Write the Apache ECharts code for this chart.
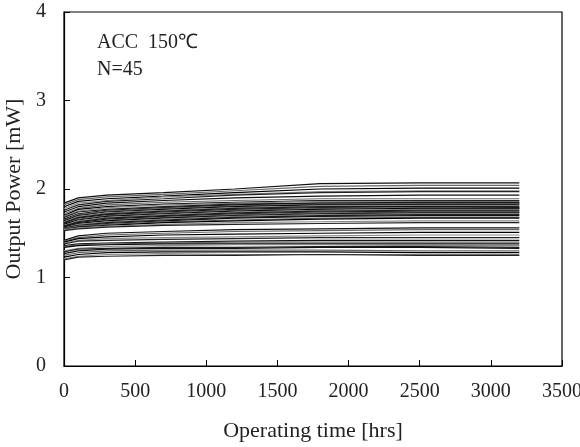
<!DOCTYPE html>
<html><head><meta charset="utf-8">
<script src="https://cdn.jsdelivr.net/npm/echarts@6/dist/echarts.min.js"></script>
<style>html,body{margin:0;padding:0;background:#fff}#c{width:580px;height:447px}</style>
</head><body><div id="c"></div>
<script>
const times = [0, 100, 300, 700, 1200, 1800, 2500, 3200];
const xTicks = [0, 500, 1000, 1500, 2000, 2500, 3000, 3500];
const yTicks = [0, 1, 2, 3, 4];
const s1 = [1.84,1.90,1.93,1.96,2.00,2.06,2.07,2.07];
const s2 = [1.82,1.88,1.91,1.94,1.98,2.03,2.04,2.04];
const s3 = [1.80,1.86,1.89,1.92,1.96,2.00,2.01,2.01];
const s4 = [1.78,1.84,1.87,1.91,1.94,1.97,1.98,1.98];
const s5 = [1.76,1.82,1.86,1.89,1.93,1.96,1.97,1.97];
const s6 = [1.74,1.80,1.84,1.87,1.90,1.92,1.93,1.93];
const s7 = [1.72,1.78,1.82,1.85,1.87,1.89,1.89,1.89];
const s8 = [1.70,1.77,1.80,1.83,1.85,1.87,1.87,1.87];
const s9 = [1.69,1.75,1.79,1.82,1.84,1.86,1.86,1.86];
const s10 = [1.68,1.74,1.77,1.80,1.83,1.84,1.85,1.85];
const s11 = [1.66,1.72,1.76,1.79,1.82,1.84,1.84,1.84];
const s12 = [1.65,1.71,1.75,1.78,1.81,1.83,1.83,1.83];
const s13 = [1.64,1.70,1.74,1.77,1.80,1.82,1.82,1.82];
const s14 = [1.63,1.69,1.73,1.76,1.79,1.81,1.81,1.81];
const s15 = [1.62,1.68,1.72,1.75,1.78,1.80,1.80,1.80];
const s16 = [1.61,1.67,1.71,1.74,1.77,1.79,1.80,1.79];
const s17 = [1.60,1.66,1.70,1.73,1.76,1.78,1.79,1.78];
const s18 = [1.60,1.65,1.69,1.72,1.75,1.77,1.78,1.78];
const s19 = [1.59,1.64,1.68,1.71,1.74,1.76,1.77,1.77];
const s20 = [1.58,1.63,1.67,1.70,1.73,1.75,1.76,1.76];
const s21 = [1.58,1.62,1.66,1.69,1.72,1.74,1.75,1.75];
const s22 = [1.57,1.61,1.65,1.68,1.71,1.73,1.74,1.74];
const s23 = [1.57,1.61,1.64,1.67,1.70,1.72,1.73,1.73];
const s24 = [1.56,1.60,1.63,1.66,1.69,1.71,1.72,1.72];
const s25 = [1.56,1.59,1.62,1.65,1.68,1.70,1.71,1.71];
const s26 = [1.55,1.58,1.61,1.64,1.67,1.69,1.70,1.70];
const s27 = [1.55,1.58,1.60,1.63,1.65,1.67,1.68,1.68];
const s28 = [1.54,1.57,1.59,1.62,1.64,1.66,1.67,1.67];
const s29 = [1.54,1.56,1.58,1.60,1.62,1.63,1.64,1.64];
const s30 = [1.53,1.55,1.57,1.59,1.60,1.61,1.62,1.62];
const s31 = [1.42,1.47,1.50,1.52,1.54,1.55,1.56,1.56];
const s32 = [1.41,1.45,1.48,1.50,1.52,1.53,1.54,1.54];
const s33 = [1.40,1.44,1.46,1.48,1.49,1.50,1.51,1.51];
const s34 = [1.39,1.42,1.44,1.45,1.46,1.47,1.48,1.48];
const s35 = [1.38,1.41,1.42,1.43,1.44,1.45,1.45,1.45];
const s36 = [1.36,1.38,1.39,1.40,1.41,1.42,1.42,1.42];
const s37 = [1.35,1.37,1.38,1.39,1.40,1.40,1.40,1.40];
const s38 = [1.34,1.36,1.37,1.38,1.38,1.38,1.38,1.38];
const s39 = [1.30,1.33,1.35,1.36,1.37,1.37,1.36,1.36];
const s40 = [1.29,1.32,1.33,1.34,1.34,1.35,1.35,1.34];
const s41 = [1.27,1.30,1.32,1.33,1.33,1.34,1.34,1.33];
const s42 = [1.25,1.28,1.30,1.31,1.31,1.31,1.30,1.30];
const s43 = [1.23,1.26,1.28,1.29,1.29,1.29,1.28,1.28];
const s44 = [1.21,1.24,1.26,1.27,1.26,1.26,1.26,1.26];
const s45 = [1.20,1.23,1.24,1.25,1.25,1.26,1.25,1.25];
const allSeries = [s1,s2,s3,s4,s5,s6,s7,s8,s9,s10,s11,s12,s13,s14,s15,s16,s17,s18,s19,s20,
  s21,s22,s23,s24,s25,s26,s27,s28,s29,s30,s31,s32,s33,s34,s35,s36,s37,s38,s39,s40,s41,s42,s43,s44,s45];

const chart = echarts.init(document.getElementById('c'));
const font = '"Liberation Serif", "Times New Roman", serif';
const colors = ['#111', '#666', '#000', '#888', '#222'];
chart.setOption({
  animation: false,
  backgroundColor: '#fff',
  grid: { left: 64, right: 18, top: 12, bottom: 81, outerBoundsMode: 'none', containLabel: false,
          show: true, borderColor: '#000', borderWidth: 1.2 },
  xAxis: {
    type: 'value', min: xTicks[0], max: xTicks[xTicks.length - 1], interval: 500,
    name: 'Operating time [hrs]', nameLocation: 'middle', nameGap: 54,
    nameTextStyle: { fontFamily: font, fontSize: 22, color: '#222' },
    axisLine: { lineStyle: { color: '#000', width: 1.2 } },
    axisTick: { inside: true, length: 6, lineStyle: { color: '#000' } },
    axisLabel: { fontFamily: font, fontSize: 20, color: '#222', margin: 16, formatter: v => String(v) },
    splitLine: { show: false }
  },
  yAxis: {
    type: 'value', min: yTicks[0], max: yTicks[yTicks.length - 1], interval: 1,
    name: 'Output Power [mW]', nameLocation: 'middle', nameGap: 28,
    nameTextStyle: { fontFamily: font, fontSize: 22, color: '#222' },
    axisLine: { lineStyle: { color: '#000', width: 1.2 } },
    axisTick: { inside: true, length: 6, lineStyle: { color: '#000' } },
    axisLabel: { fontFamily: font, fontSize: 20, color: '#222', margin: 18, formatter: v => String(v) },
    splitLine: { show: false }
  },
  graphic: [
    { type: 'text', left: 97, top: 33, style: { text: 'ACC  150℃', font: '20px ' + font, fill: '#222' } },
    { type: 'text', left: 97, top: 60, style: { text: 'N=45', font: '20px ' + font, fill: '#222' } }
  ],
  series: allSeries.map((s, i) => ({
    type: 'line', showSymbol: false, silent: true,
    data: times.map((t, j) => [t, s[j]]),
    lineStyle: { color: colors[i % colors.length], width: 1.2 }
  }))
});
</script></body></html>
